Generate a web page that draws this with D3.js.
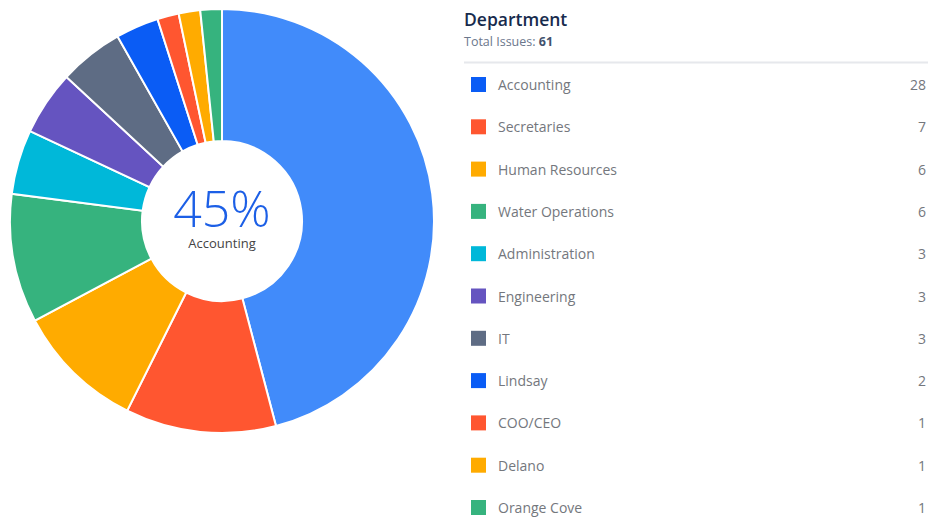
<!DOCTYPE html>
<html lang="en">
<head>
<meta charset="UTF-8">
<title>Department</title>
<script src="https://cdn.jsdelivr.net/npm/d3@7"></script>
<style>
    html, body { margin: 0; padding: 0; background: #fff; }
    body { font-family: "Open Sans", "Noto Sans", sans-serif; }
    #chart { width: 928px; height: 523px; }
</style>
</head>
<body>
<div id="chart"></div>
<script>
    const departments = ['Accounting', 'Secretaries', 'Human Resources', 'Water Operations', 'Administration',
        'Engineering', 'IT', 'Lindsay', 'COO/CEO', 'Delano', 'Orange Cove'];
    const issues = [28, 7, 6, 6, 3, 3, 3, 2, 1, 1, 1];
    const colors = ['#0a5cf5', '#ff5630', '#ffab00', '#36b37e', '#00b8d9',
        '#6554c0', '#5e6c84', '#0a5cf5', '#ff5630', '#ffab00', '#36b37e'];
    const highlightColor = '#418bfa';   // hovered slice

    const width = 928, height = 523;
    const cx = 222, cy = 221, outerR = 212, innerR = 80;
    const total = d3.sum(issues);
    const data = departments.map((name, i) => ({name, value: issues[i], color: colors[i]}));

    const svg = d3.select('#chart').append('svg').attr('width', width).attr('height', height);

    // donut
    const pie = d3.pie().value(d => d.value).sort(null);
    const arc = d3.arc().innerRadius(innerR).outerRadius(outerR);

    const g = svg.append('g').attr('transform', `translate(${cx},${cy})`);
    g.selectAll('path')
        .data(pie(data))
        .join('path')
        .attr('d', arc)
        .attr('fill', (d, i) => i === 0 ? highlightColor : d.data.color)
        .attr('stroke', '#fff')
        .attr('stroke-width', 2);

    // centre label
    g.append('text')
        .attr('y', 6)
        .attr('text-anchor', 'middle')
        .attr('font-size', 50)
        .attr('font-weight', 300)
        .attr('fill', '#1c5fe6')
        .text(Math.floor(data[0].value / total * 100) + '%');
    g.append('text')
        .attr('y', 27)
        .attr('text-anchor', 'middle')
        .attr('font-size', 13)
        .attr('fill', '#444')
        .text(data[0].name);

    // legend header
    const lx = 464;
    svg.append('text')
        .attr('x', lx).attr('y', 26)
        .attr('font-size', 17.5).attr('font-weight', 600).attr('fill', '#172b4d')
        .text('Department');
    const sub = svg.append('text')
        .attr('x', lx).attr('y', 46)
        .attr('font-size', 12.5).attr('fill', '#6b778c');
    sub.append('tspan').text('Total Issues: ');
    sub.append('tspan').attr('font-weight', 700).attr('fill', '#42526e').text(total);

    svg.append('line')
        .attr('x1', lx).attr('x2', width)
        .attr('y1', 62.5).attr('y2', 62.5)
        .attr('stroke', '#e6e8ec').attr('stroke-width', 2);

    // legend rows
    const y = d3.scalePoint().domain(departments).range([85, 508]);
    const rows = svg.append('g').selectAll('g')
        .data(data)
        .join('g')
        .attr('transform', d => `translate(0,${y(d.name)})`);

    rows.append('rect')
        .attr('x', 471).attr('y', -8)
        .attr('width', 15).attr('height', 15)
        .attr('fill', d => d.color);
    rows.append('text')
        .attr('x', 498).attr('y', 5)
        .attr('font-size', 14).attr('fill', '#74777d')
        .text(d => d.name);
    rows.append('text')
        .attr('x', 926).attr('y', 5)
        .attr('text-anchor', 'end')
        .attr('font-size', 14).attr('fill', '#74777d')
        .text(d => d.value);
</script>
</body>
</html>
